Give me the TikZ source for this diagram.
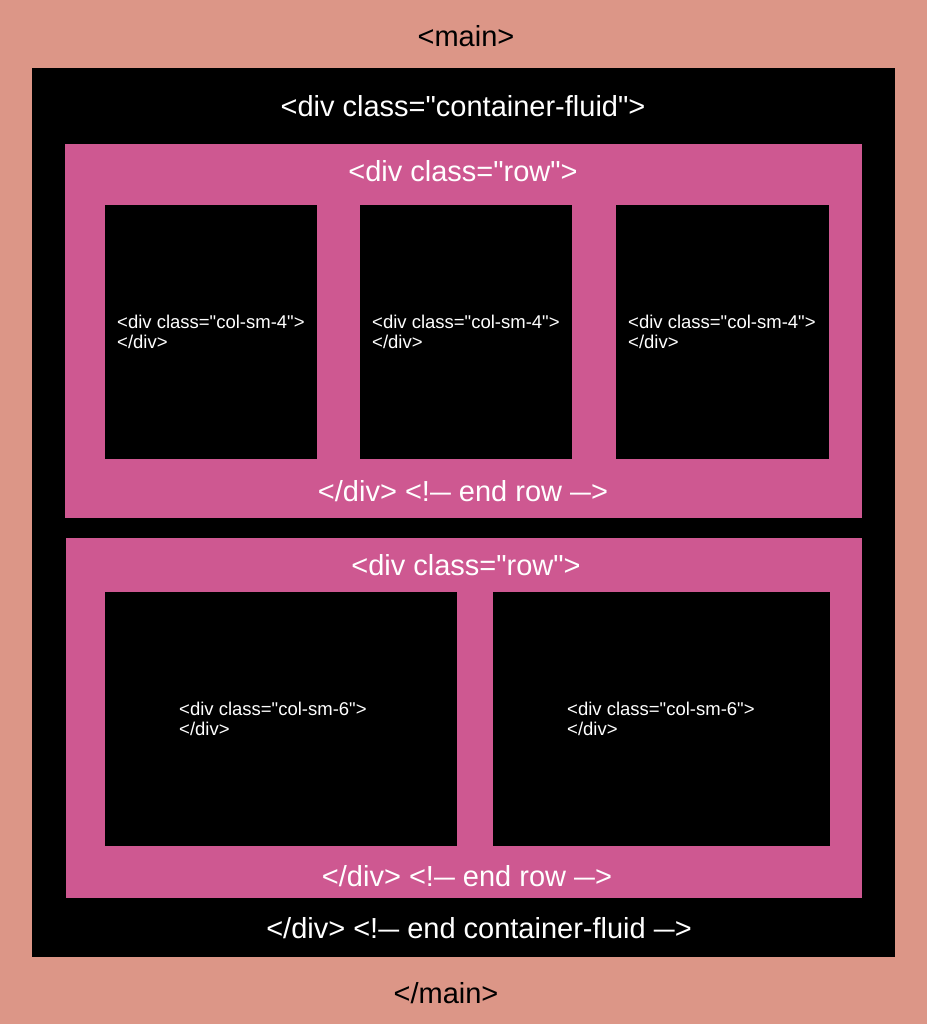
\documentclass[tikz,border=0pt]{standalone}
\usepackage{fontspec}
\setmainfont{Liberation Sans}[Ligatures=TeXOff]
\definecolor{mainc}{RGB}{220,150,135}
\definecolor{rowc}{RGB}{206,88,145}
\newcommand\mdsh{\scalebox{0.72}[1]{—}}
\begin{document}
\begin{tikzpicture}[x=1pt,y=-1pt,
  box/.style={draw=none, anchor=north west, inner sep=0pt, outer sep=0pt},
  big/.style={font=\fontsize{29}{32}\selectfont, inner sep=0pt, text height=20pt, text depth=0pt},
  small/.style={font=\fontsize{18.5}{20}\selectfont, align=left, text=white, inner sep=0pt, anchor=west}]
\node[box, fill=mainc, minimum width=927pt, minimum height=1024pt] (main) at (0,0) {};
\node[box, fill=black, minimum width=863pt, minimum height=889pt] (cont) at (32,68) {};
\node[box, fill=rowc, minimum width=797pt, minimum height=374pt] (row1) at (65,144) {};
\node[box, fill=rowc, minimum width=796pt, minimum height=360pt] (row2) at (66,538) {};
\node[box, fill=black, minimum width=212pt, minimum height=254pt] (c1) at (105,205) {};
\node[box, fill=black, minimum width=212pt, minimum height=254pt] (c2) at (360,205) {};
\node[box, fill=black, minimum width=213pt, minimum height=254pt] (c3) at (616,205) {};
\node[box, fill=black, minimum width=352pt, minimum height=254pt] (d1) at (105,592) {};
\node[box, fill=black, minimum width=337pt, minimum height=254pt] (d2) at (493,592) {};
% labels
\node[big, text=black] (tmain) at (466,37) {<main>};
\node[big, text=white] (tcont) at (463,107) {<div class="container-fluid">};
\node[big, text=white] (trow1) at (463,172) {<div class="row">};
\node[small] (tc1) at (117,332) {<div class="col-sm-4">\\</div>};
\node[small] (tc2) at (372,332) {<div class="col-sm-4">\\</div>};
\node[small] (tc3) at (628,332) {<div class="col-sm-4">\\</div>};
\node[big, text=white] (erow1) at (463,491) {</div> <!\mdsh{} end row \mdsh>};
\node[big, text=white] (trow2) at (466,565) {<div class="row">};
\node[small] (td1) at (179,719) {<div class="col-sm-6">\\</div>};
\node[small] (td2) at (567,719) {<div class="col-sm-6">\\</div>};
\node[big, text=white] (erow2) at (467,876) {</div> <!\mdsh{} end row \mdsh>};
\node[big, text=white] (econt) at (479,928) {</div> <!\mdsh{} end container-fluid \mdsh>};
\node[big, text=black] (emain) at (446,993) {</main>};
\end{tikzpicture}
\end{document}
